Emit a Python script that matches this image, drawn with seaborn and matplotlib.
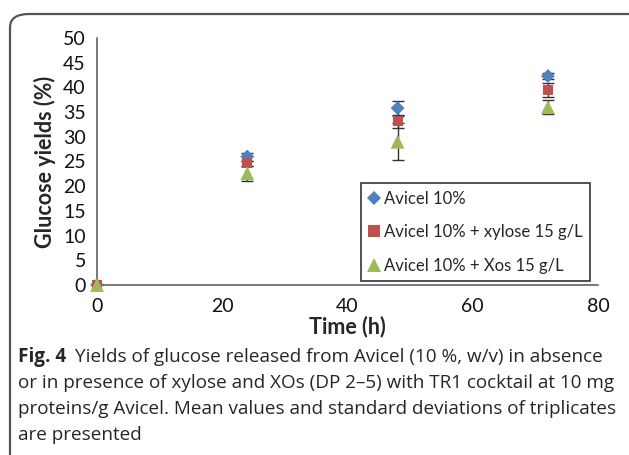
import matplotlib
matplotlib.use("Agg")
import matplotlib.pyplot as plt
from matplotlib.patches import FancyBboxPatch
from matplotlib.lines import Line2D
import seaborn as sns
import pandas as pd

# ---- data ----
times = [0, 24, 48, 72]
series_names = ["Avicel 10%", "Avicel 10% + xylose 15 g/L", "Avicel 10% + Xos 15 g/L"]
avicel = [0.0, 26.0, 35.8, 42.3]
avicel_err = [0.0, 0.8, 1.5, 0.7]
xylose = [0.0, 24.6, 33.1, 39.5]
xylose_err = [0.0, 0.6, 1.3, 1.4]
xos = [0.0, 22.6, 29.0, 36.0]
xos_err = [0.0, 1.5, 3.7, 1.4]
x_ticks = [0, 20, 40, 60, 80]
y_ticks = [0, 5, 10, 15, 20, 25, 30, 35, 40, 45, 50]
colors = ["#4F81BD", "#C0504D", "#9BBB59"]
markers = ["D", "s", "^"]
caption_lines = [
    "Yields of glucose released from Avicel (10 %, w/v) in absence",
    "or in presence of xylose and XOs (DP 2\u20135) with TR1 cocktail at 10 mg",
    "proteins/g Avicel. Mean values and standard deviations of triplicates",
    "are presented",
]

vals = [avicel, xylose, xos]
errs = [avicel_err, xylose_err, xos_err]
df = pd.DataFrame({
    "time": times * 3,
    "yield": avicel + xylose + xos,
    "err": avicel_err + xylose_err + xos_err,
    "series": [n for n in series_names for _ in times],
})

sns.set_style("white")
plt.rcParams["font.family"] = ["Lato", "DejaVu Sans"]

W, H = 629, 455
fig = plt.figure(figsize=(W / 100, H / 100), dpi=100)

# frame around the figure
frame = FancyBboxPatch((10 / W, -0.2), 1.2, (455 - 14) / H + 0.2,
                       boxstyle="round,pad=0,rounding_size=0.03",
                       transform=fig.transFigure, fill=False,
                       edgecolor="#555555", linewidth=1.6, clip_on=False)
fig.patches.append(frame)

ax = fig.add_axes([97 / W, 1 - 285 / H, (598 - 97) / W, (285 - 38) / H])

for i, name in enumerate(series_names):
    ax.errorbar(times, vals[i], yerr=errs[i], fmt="none", ecolor="#333333",
                elinewidth=1.0, capsize=4, capthick=1.0, zorder=2)

sizes = {"D": 50, "s": 52, "^": 100}
sns.scatterplot(data=df, x="time", y="yield", hue="series", style="series",
                hue_order=series_names, style_order=series_names,
                palette=colors, markers=dict(zip(series_names, markers)),
                s=60, linewidth=0, ax=ax, zorder=3, legend=False)
coll = ax.collections[-1]
coll.set_sizes([sizes[markers[series_names.index(s)]] for s in df["series"]])

ax.set_xlim(0, 80)
ax.set_ylim(0, 50)
ax.set_xticks(x_ticks)
ax.set_yticks(y_ticks)
ax.tick_params(axis="both", labelsize=14, length=5, width=1, color="#555555",
               labelcolor="#111111", direction="out", pad=3)
ax.tick_params(axis="x", pad=4)
sns.despine(ax=ax)
for sp in ["left", "bottom"]:
    ax.spines[sp].set_color("#555555")
    ax.spines[sp].set_linewidth(1.1)
ax.set_xlabel("Time (h)", fontsize=15.5, fontweight="bold", labelpad=1)
ax.set_ylabel("Glucose yields (%)", fontsize=15.5, fontweight="bold", labelpad=5)
ax.margins(0)
for c in ax.collections:
    c.set_clip_on(False)

handles = [Line2D([], [], linestyle="none", marker=m, color=c, markersize=ms,
                  markeredgewidth=0)
           for m, c, ms in zip(markers, colors, [7.5, 8, 10])]
leg = ax.legend(handles, series_names, loc="lower left",
                bbox_to_anchor=(0.527, 0.016), fontsize=12.0, frameon=True,
                fancybox=False, edgecolor="black", labelspacing=1.05,
                handlelength=0.7, handletextpad=0.25, borderpad=0.45,
                borderaxespad=0)
leg.get_frame().set_linewidth(1.2)

# caption
cap_font = ["Open Sans", "DejaVu Sans"]
fs = 13.6
y0 = 1 - 357 / H
dy = 26 / H
t = fig.text(18 / W, y0, "Fig. 4", fontsize=fs, fontweight="bold",
             family=cap_font, va="center", ha="left")
fig.canvas.draw()
bb = t.get_window_extent()
fig.text((bb.x1 + 9) / W, y0, caption_lines[0], fontsize=fs, family=cap_font,
         va="center", ha="left")
for k, line in enumerate(caption_lines[1:], start=1):
    fig.text(18 / W, y0 - k * dy, line, fontsize=fs, family=cap_font,
             va="center", ha="left")

fig.savefig("out.png", dpi=100)
